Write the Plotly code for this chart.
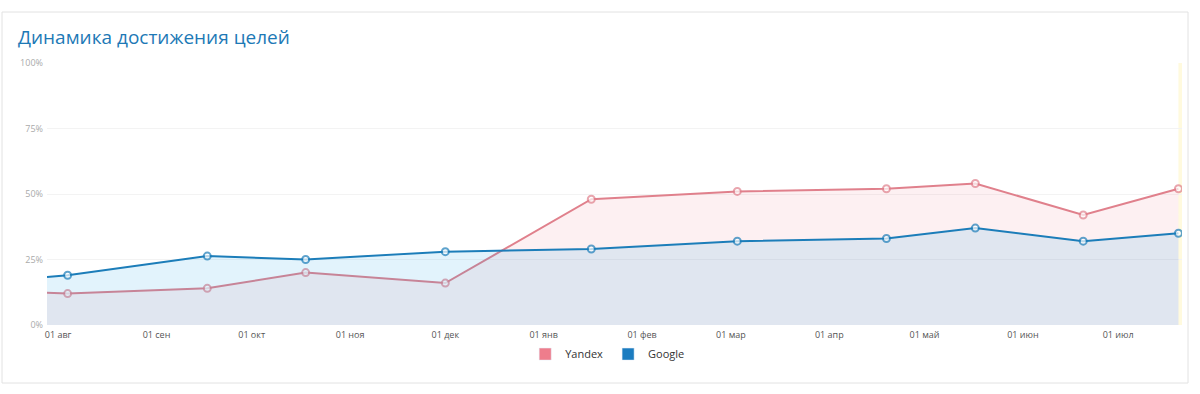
import plotly.graph_objects as go

# ---- data ----
dates = ["2018-07-28 12:00", "2018-08-04", "2018-09-17", "2018-10-18", "2018-12-01",
         "2019-01-16", "2019-03-03", "2019-04-19", "2019-05-17", "2019-06-20", "2019-07-20"]
yandex = [12.3, 12.0, 14.0, 20.0, 16.0, 48.0, 51.0, 52.0, 54.0, 42.0, 52.0]
google = [18.3, 19.0, 26.3, 25.0, 28.0, 29.0, 32.0, 33.0, 37.0, 32.0, 35.0]

tick_dates = ["2018-08-01", "2018-09-01", "2018-10-01", "2018-11-01", "2018-12-01", "2019-01-01",
              "2019-02-01", "2019-03-01", "2019-04-01", "2019-05-01", "2019-06-01", "2019-07-01"]
tick_labels = ["01 авг", "01 сен", "01 окт", "01 ноя", "01 дек", "01 янв",
               "01 фев", "01 мар", "01 апр", "01 май", "01 июн", "01 июл"]
y_ticks = [0, 25, 50, 75, 100]
y_labels = ["0%", "25%", "50%", "75%", "100%"]

title = "Динамика достижения целей"

# ---- styles ----
Y_COLOR = "#e0808c"
G_COLOR = "#1c7db9"
Y_FILL = "rgba(238,120,135,0.11)"
G_FILL = "rgba(30,160,230,0.13)"

# first point is the clipped edge of the series: no marker there
sizes = [0] + [7] * (len(dates) - 1)

fig = go.Figure()
fig.add_trace(go.Scatter(
    x=dates, y=yandex, name="Yandex", mode="lines+markers",
    line=dict(color=Y_COLOR, width=2),
    marker=dict(size=sizes, color="white", line=dict(color=Y_COLOR, width=2)),
    fill="tozeroy", fillcolor=Y_FILL, showlegend=False, hoverinfo="x+y"))
fig.add_trace(go.Scatter(
    x=dates, y=google, name="Google", mode="lines+markers",
    line=dict(color=G_COLOR, width=2),
    marker=dict(size=sizes, color="white", line=dict(color=G_COLOR, width=2)),
    fill="tozeroy", fillcolor=G_FILL, showlegend=False, hoverinfo="x+y"))

# legend swatches
fig.add_trace(go.Bar(x=[None], y=[None], name="Yandex", marker_color="#ee7d8c"))
fig.add_trace(go.Bar(x=[None], y=[None], name="Google", marker_color="#1b7cc0"))

fig.update_layout(
    width=1200, height=394,
    margin=dict(l=47, r=18, t=63, b=69),
    paper_bgcolor="white", plot_bgcolor="white",
    font=dict(family="Open Sans, sans-serif"),
    showlegend=True,
    legend=dict(orientation="h", x=0.494, xanchor="center", y=-0.111, yanchor="middle",
                font=dict(size=11, color="#333333"), bgcolor="rgba(0,0,0,0)"),
    annotations=[dict(text=title, xref="paper", yref="paper",
                      x=-31 / 1135, y=(325 - 37) / 262, xanchor="left", yanchor="middle",
                      showarrow=False,
                      font=dict(size=19, color="#1d79b6", family="Open Sans, sans-serif"))],
    shapes=[
        # card border
        dict(type="rect", xref="paper", yref="paper",
             x0=-45 / 1135, x1=(1188 - 47) / 1135, y0=(325 - 383) / 262, y1=(325 - 12) / 262,
             line=dict(color="#e2e2e2", width=1), fillcolor="rgba(0,0,0,0)", layer="below"),
        # today highlight band
        dict(type="rect", xref="x", yref="paper", x0="2019-07-20", x1="2019-07-21 03:00",
             y0=0, y1=1, fillcolor="rgba(255,240,160,0.35)", line=dict(width=0), layer="below"),
    ],
    hovermode="x",
)

fig.update_xaxes(
    type="date", range=["2018-07-28 12:00", "2019-07-21 03:00"],
    tickmode="array", tickvals=tick_dates, ticktext=tick_labels,
    tickfont=dict(size=9, color="#555555"), ticklabelstandoff=3,
    showgrid=False, zeroline=False, showline=False, ticks="", ticklen=0,
)
fig.update_yaxes(
    range=[0, 100], tickmode="array", tickvals=y_ticks, ticktext=y_labels,
    tickfont=dict(size=9, color="#aaaaaa"), ticklabelstandoff=3,
    showgrid=True, gridcolor="#f3f3f3", gridwidth=1,
    zeroline=False, showline=False, ticks="",
)

fig.write_html("out.html")
